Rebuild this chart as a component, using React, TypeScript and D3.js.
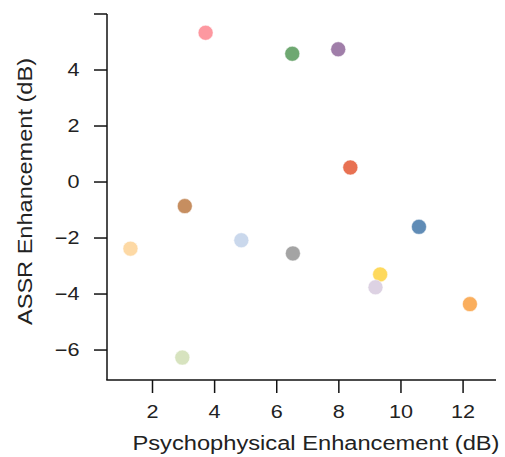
import React from "react";
import * as d3 from "d3";

const subjects = ["S1","S2","S3","S4","S5","S6","S7","S8","S9","S10","S11","S12","S13"];
const psychophysical = [3.71, 6.50, 7.98, 8.37, 10.58, 6.52, 9.33, 9.18, 12.22, 3.04, 1.29, 4.86, 2.96];
const assr = [5.33, 4.58, 4.74, 0.52, -1.60, -2.55, -3.30, -3.76, -4.36, -0.86, -2.38, -2.08, -6.27];
const colors = ["#fd8d96","#5e9e62","#9670a0","#e5623f","#4f7fae","#9a9a9a","#fed54b","#d9cde0","#f9a54b","#c0824f","#fdd59b","#c4d4ea","#d3e0b8"];
const xTicks = [2, 4, 6, 8, 10, 12];
const yTicks = [-6, -4, -2, 0, 2, 4, 6];
const yTickLabels = ["−6", "−4", "−2", "0", "2", "4", ""];
const xTitle = "Psychophysical Enhancement (dB)";
const yTitle = "ASSR Enhancement (dB)";

export default function App() {
  const W = 505, H = 457;
  const left = 107, right = 496, top = 14, bottom = 380;
  const x = d3.scaleLinear().domain([0.535, 13.06]).range([left, right]);
  const y = d3.scaleLinear().domain([-7.07, 6]).range([bottom, top]);
  const font = "'Liberation Sans', Arial, Helvetica, sans-serif";
  const tickLen = 13;
  const sx = 1.2;
  return (
    <svg width={W} height={H} style={{ position: "absolute", left: 0, top: 0, background: "#fff" }} fontFamily={font}>
      {psychophysical.map((v, i) => (
        <circle key={subjects[i]} cx={x(v)} cy={y(assr[i])} r={7.5} fill={colors[i]} fillOpacity={0.9} stroke="#fff" strokeOpacity={0.5} strokeWidth={1} />
      ))}
      <line x1={left} x2={left} y1={top} y2={bottom} stroke="#111" strokeWidth={1.5} />
      <line x1={left - 0.75} x2={right} y1={bottom} y2={bottom} stroke="#111" strokeWidth={1.5} />
      {xTicks.map((t) => (
        <g key={t}>
          <line x1={x(t)} x2={x(t)} y1={bottom} y2={bottom + tickLen} stroke="#111" strokeWidth={1.5} />
          <text transform={`translate(${x(t)},418) scale(${sx},1)`} textAnchor="middle" fontSize={18} fill="#222">{t}</text>
        </g>
      ))}
      {yTicks.map((t, i) => (
        <g key={t}>
          <line x1={left - tickLen} x2={left} y1={y(t)} y2={y(t)} stroke="#111" strokeWidth={1.5} />
          <text transform={`translate(79.5,${y(t) + 6.4}) scale(${sx},1)`} textAnchor="end" fontSize={18} fill="#222">{yTickLabels[i]}</text>
        </g>
      ))}
      <text x={(132 + 500) / 2} y={450} textAnchor="middle" fontSize={20} textLength={367} lengthAdjust="spacingAndGlyphs" fill="#222">{xTitle}</text>
      <text transform={`translate(32, ${(58 + 325) / 2}) rotate(-90)`} textAnchor="middle" fontSize={20} textLength={267} lengthAdjust="spacingAndGlyphs" fill="#222">{yTitle}</text>
    </svg>
  );
}
